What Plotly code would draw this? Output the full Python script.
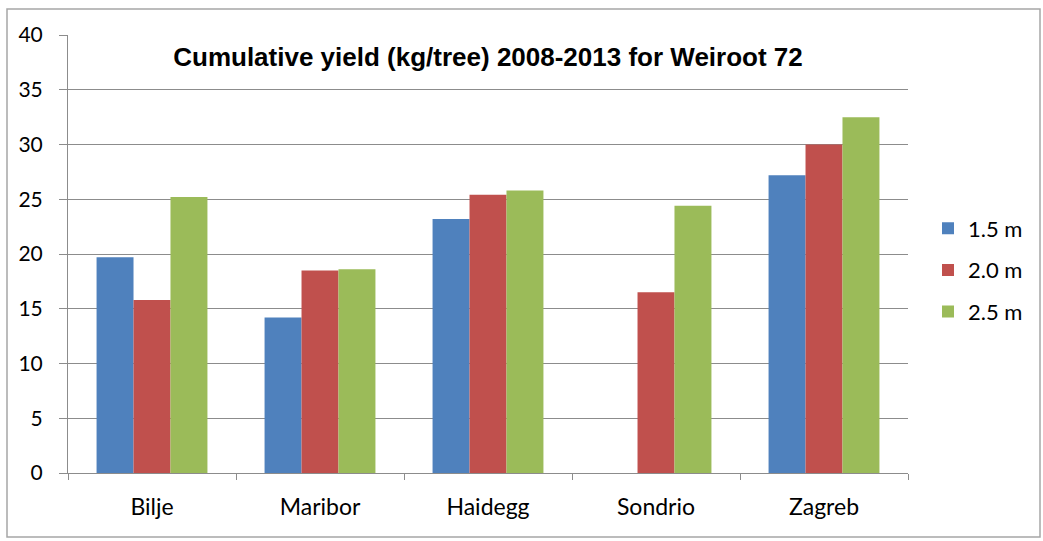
import plotly.graph_objects as go

# Cumulative yield per tree (kg), 2008-2013, Weiroot 72 rootstock
sites = ["Bilje", "Maribor", "Haidegg", "Sondrio", "Zagreb"]
yield_1_5m = [19.7, 14.2, 23.2, 0, 27.2]
yield_2_0m = [15.8, 18.5, 25.4, 16.5, 30.0]
yield_2_5m = [25.2, 18.6, 25.8, 24.4, 32.5]
y_ticks = [0, 5, 10, 15, 20, 25, 30, 35, 40]

series = [
    ("1.5 m", yield_1_5m, "#4F81BD"),
    ("2.0 m", yield_2_0m, "#C0504D"),
    ("2.5 m", yield_2_5m, "#9BBB59"),
]

fig = go.Figure()
for name, vals, color in series:
    fig.add_trace(go.Bar(
        x=sites, y=vals, name=name, legendgroup=name,
        marker=dict(color=color, line=dict(width=0)),
    ))

W, H = 1043, 541
L, R, T, B = 68, 135, 35, 68
pw, ph = W - L - R, H - T - B

def px_x(p):
    return (p - L) / pw

def px_y(p):
    return (H - B - p) / ph

grid = "#8c8c8c"
sans = "Lato, Carlito, Calibri, sans-serif"

fig.update_layout(
    width=W, height=H,
    margin=dict(l=L, r=R, t=T, b=B, autoexpand=False),
    paper_bgcolor="white", plot_bgcolor="white",
    barmode="group", bargap=0.34, bargroupgap=0,
    title=dict(
        text="<b>Cumulative yield (kg/tree) 2008-2013 for Weiroot 72</b>",
        font=dict(family="Liberation Sans, Arial, sans-serif", size=26, color="#000000"),
        x=0.5, xref="paper", xanchor="center",
        y=1 - 57 / H, yref="container", yanchor="middle",
    ),
    xaxis=dict(
        showline=True, linecolor=grid, linewidth=1,
        ticks="outside", tickson="boundaries", ticklen=6, tickcolor=grid,
        tickfont=dict(family=sans, size=23, color="#000000"),
        ticklabelstandoff=13,
        showgrid=False,
    ),
    yaxis=dict(
        range=[0, 40], tickvals=y_ticks, ticktext=[str(v) for v in y_ticks],
        showline=True, linecolor=grid, linewidth=1,
        ticks="outside", ticklen=8, tickcolor=grid,
        showgrid=True, gridcolor=grid, gridwidth=1,
        zeroline=False,
        tickfont=dict(family=sans, size=21, color="#000000"),
        ticklabelstandoff=12,
    ),
    legend=dict(
        x=px_x(928), y=px_y(270), xanchor="left", yanchor="middle",
        font=dict(family=sans, size=22, color="#000000"),
        traceorder="grouped", tracegroupgap=10,
        itemwidth=30, bgcolor="rgba(0,0,0,0)",
    ),
    shapes=[dict(
        type="rect", xref="paper", yref="paper",
        x0=px_x(7), x1=px_x(1040), y0=px_y(537), y1=px_y(9),
        line=dict(color="#a6a6a6", width=1.5), layer="below",
    )],
)

fig.write_html("out.html")
